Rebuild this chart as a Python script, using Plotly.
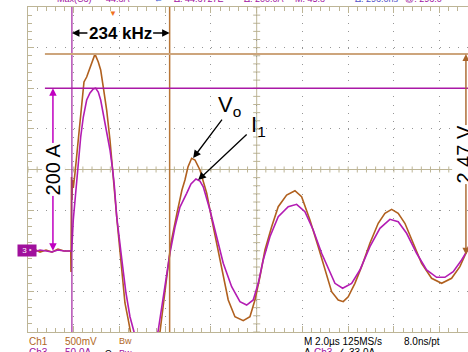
import plotly.graph_objects as go

# ---- scope settings ----
TIME_PER_DIV = 2.0      # µs / div
CH1_SCALE = 0.5         # V / div   (Vo)
CH3_SCALE = 50.0        # A / div   (I1)
CH1_POS = -2.1          # ground marker position, div
CH3_POS = -2.0
X_MAX = 19.24           # µs shown across the window (screen continues past the right edge)

# ---- captured waveforms ----
t_vo = [0, 0.262, 0.525, 0.787, 1.049, 1.311, 1.574, 1.836, 1.871, 1.880, 1.888, 1.902,
        1.924, 1.945, 1.980, 2.055, 2.155, 2.243, 2.317, 2.391, 2.448, 2.566, 2.710, 2.855,
        2.929, 3.073, 3.178, 3.292, 3.440, 3.585, 3.703, 3.803, 3.904, 4.022, 4.140, 4.240,
        4.385, 4.490, 4.809, 5.115, 5.421, 5.771, 5.945, 6.077, 6.251, 6.514, 6.732, 6.863,
        6.995, 7.156, 7.301, 7.519, 7.812, 8.101, 8.319, 8.538, 8.756, 9.049, 9.412, 9.705,
        9.924, 10.142, 10.361, 10.654, 10.942, 11.309, 11.672, 11.965, 12.328, 12.691, 12.984,
        13.277, 13.565, 13.784, 14.002, 14.295, 14.588, 14.951, 15.314, 15.607, 15.900, 16.188,
        16.481, 16.844, 17.211, 17.648, 18.085, 18.523, 18.885, 19.178, 19.322]
vo = [0.047, 0.071, 0.034, 0.059, 0.034, 0.071, 0.047, 0.047, 0.047, -0.212, 0.182, 0.958,
      0.674, 0.921, 0.822, 1.007, 1.290, 1.536, 1.819, 2.028, 2.127, 2.188, 2.299, 2.422,
      2.470, 2.373, 2.275, 2.065, 1.782, 1.413, 1.081, 0.715, 0.391, 0.022, -0.310, -0.593,
      -0.802, -0.946, -1.442, -1.652, -1.442, -0.950, -0.556, -0.187, 0.145, 0.514, 0.798, 0.921,
      1.081, 1.188, 1.167, 1.044, 0.761, 0.346, 0.059, -0.270, -0.556, -0.762, -0.811, -0.762,
      -0.556, -0.270, 0.059, 0.346, 0.592, 0.736, 0.789, 0.715, 0.428, 0.100, -0.187,
      -0.454, -0.556, -0.577, -0.516, -0.351, -0.146, 0.142, 0.388, 0.511, 0.560, 0.511,
      0.388, 0.142, -0.105, -0.289, -0.351, -0.289, -0.146, 0.038, 0.145]

t_i1 = [0, 0.262, 0.525, 0.787, 1.049, 1.311, 1.574, 1.836, 1.910, 1.980, 2.055, 2.129,
        2.199, 2.304, 2.418, 2.566, 2.710, 2.855, 2.960, 3.073, 3.178, 3.292, 3.440, 3.585,
        3.703, 3.773, 3.878, 3.991, 4.140, 4.284, 4.459, 4.634, 4.852, 5.158, 5.465, 5.683,
        5.858, 6.033, 6.208, 6.426, 6.645, 6.938, 7.126, 7.344, 7.519, 7.663, 7.956, 8.249,
        8.538, 8.905, 9.268, 9.561, 9.849, 10.068, 10.286, 10.579, 10.942, 11.379, 11.747,
        12.109, 12.472, 12.839, 13.128, 13.421, 13.757, 14.151, 14.514, 14.951, 15.388,
        15.825, 16.188, 16.555, 16.993, 17.430, 17.867, 18.230, 18.593, 18.960, 19.178, 19.322]
i1 = [-0.3, -1.5, 0.9, -0.3, -1.5, 0.9, -0.3, -0.3, -0.3, 37.8, 62.5, 87.1,
      115.4, 140.0, 164.6, 185.5, 194.2, 199.1, 200.0, 195.4, 185.5, 169.5, 148.6, 124.0,
      99.4, 80.9, 41.9, 13.2, -19.6, -52.0, -81.2, -99.6, -124.6, -140.6, -124.6, -100.0,
      -69.2, -36.0, -2.8, 29.2, 53.8, 70.7, 82.2, 88.3, 85.8, 78.8, 50.2, 17.3,
      -15.4, -44.2, -62.7, -66.8, -60.6, -40.1, -11.4, 17.3, 41.9, 54.2, 57.2,
      48.1, 25.5, -3.1, -21.6, -40.1, -46.2, -40.1, -23.7, 5.0, 27.6,
      38.7, 35.8, 21.5, -3.1, -23.7, -32.7, -32.7, -25.8, -11.4, -1.2, 7.1]

# ---- cursor readouts ----
FREQ_KHZ = 234
CURSOR_T1 = 1.92                          # µs
CURSOR_T2 = CURSOR_T1 + 1e3 / FREQ_KHZ    # one period later
CURSOR_V = 2.47                           # V
CURSOR_I = 200.0                          # A

# ---- styling ----
W, H = 468, 352
ML, MT, MB = 28, 7, 20
FONT = "Liberation Sans, Arial, sans-serif"
BROWN = "#B0601E"
BROWN_TXT = "#B0671E"
BROWN_CUR = "#CDA57C"
MAGENTA = "#B31CB3"
PURPLE_TXT = "#A010A0"
AXIS = "#BDB596"
GRID = "#969696"

plot_w = W - ML
plot_h = H - MT - MB
dot_y = plot_h / 8 / 5                       # vertical spacing of grid dots
dot_x = plot_w / X_MAX * TIME_PER_DIV / 5    # horizontal spacing of grid dots

fig = go.Figure()
fig.add_trace(go.Scatter(x=t_vo, y=vo, yaxis="y2", mode="lines",
                         line=dict(color=BROWN, width=1.6), hoverinfo="skip"))
fig.add_trace(go.Scatter(x=t_i1, y=i1, yaxis="y3", mode="lines",
                         line=dict(color=MAGENTA, width=1.6), hoverinfo="skip"))

shapes = []
XC = 5 * TIME_PER_DIV
# centre cross with fine graduations
shapes.append(dict(type="line", xref="x", yref="paper", x0=XC, x1=XC, y0=0, y1=1,
                   line=dict(color=AXIS, width=1), layer="between"))
n_minor_x = int(X_MAX / (TIME_PER_DIV / 5)) + 1
for k in range(n_minor_x):
    t = k * TIME_PER_DIV / 5
    shapes.append(dict(type="line", xref="x", yref="y", x0=t, x1=t,
                       ysizemode="pixel", yanchor=0, y0=-3, y1=3,
                       line=dict(color=AXIS, width=1), layer="between"))
for k in range(-20, 21):
    y = k / 5
    shapes.append(dict(type="line", xref="x", yref="y", y0=y, y1=y,
                       xsizemode="pixel", xanchor=XC, x0=-3.5, x1=3.5,
                       line=dict(color=AXIS, width=1), layer="between"))
# cursors
shapes.append(dict(type="line", xref="x", yref="paper", x0=CURSOR_T1, x1=CURSOR_T1, y0=0, y1=1,
                   line=dict(color="#A020A0", width=1.2)))
shapes.append(dict(type="line", xref="x", yref="paper", x0=CURSOR_T2, x1=CURSOR_T2, y0=0, y1=1,
                   line=dict(color="#B87535", width=1.5)))
shapes.append(dict(type="line", xref="x", yref="y2", x0=0.74, x1=X_MAX, y0=CURSOR_V, y1=CURSOR_V,
                   line=dict(color=BROWN_CUR, width=2)))
shapes.append(dict(type="line", xref="x", yref="y3", x0=0.74, x1=X_MAX, y0=CURSOR_I, y1=CURSOR_I,
                   line=dict(color="#AA18A6", width=1.5)))

ann = []


def arrow(x, y, yref, ax, ay, color, width=1.5, size=1.0):
    ann.append(dict(x=x, y=y, xref="x", yref=yref, ax=ax, ay=ay, text="", showarrow=True,
                    arrowhead=2, arrowsize=size, arrowwidth=width, arrowcolor=color))


def label(text, x, y, xref="x", yref="y", size=10, color="black", **kw):
    d = dict(text=text, x=x, y=y, xref=xref, yref=yref, showarrow=False,
             font=dict(family=FONT, size=size, color=color))
    d.update(kw)
    ann.append(d)


# 200 A span
X_I_SPAN = 1.09
arrow(X_I_SPAN, CURSOR_I, "y3", 0, 80, "#C000C0")
arrow(X_I_SPAN, 0, "y3", 0, -80, "#C000C0")
label(f"{CURSOR_I:.0f} A", X_I_SPAN, CURSOR_I / 2, yref="y3", size=20, textangle=-90,
      bgcolor="white", borderpad=0)

# 2.47 V span (at the right edge of the screen)
X_V_SPAN = 19.15
arrow(X_V_SPAN, CURSOR_V, "y2", 0, 100, "#A8642A", width=1.4)
arrow(X_V_SPAN, 0, "y2", 0, -100, "#A8642A", width=1.4)
label(f"{CURSOR_V:.2f} V", 19.07, CURSOR_V / 2, yref="y2", size=20, textangle=-90,
      bgcolor="white", borderpad=0)

# period between cursors
Y_FREQ = 3.36
label(f"<b>{FREQ_KHZ} kHz</b>", (CURSOR_T1 + CURSOR_T2) / 2, Y_FREQ, size=17)
arrow(CURSOR_T1, Y_FREQ, "y", 17, 0, "black")
arrow(CURSOR_T2, Y_FREQ, "y", -18, 0, "black")

# waveform callouts
arrow(7.22, 1.19, "y2", 30, -40, "black", width=1.3, size=1.2)
label("V<sub>o</sub>", 8.79, 1.56, size=22)
arrow(7.44, 87.0, "y3", 50, -47, "black", width=1.3, size=1.2)
label("I<sub>1</sub>", 10.1, 1.07, size=22)

# channel 3 ground marker (sits in the left margin)
label("3 ‣", (17 - ML) / plot_w, 0, xref="paper", yref="y3", size=8, color="white",
      bgcolor="#A0109C", width=18, height=11, borderpad=0)
# trigger position marker
label("▼", 3.72, 1.0, yref="paper", size=8, color="#F07020", yanchor="top")

# readout along the top (mostly cut off)
y_top = 1 + (MT + 1) / plot_h
for txt, px, col in [("Max(C3)", 55, PURPLE_TXT), ("44.8A", 104, PURPLE_TXT),
                     ("←", 152, "#3050D0"), ("Δ: 44.6727E", 172, PURPLE_TXT),
                     ("Δ: 200.0A", 242, PURPLE_TXT), ("M: 45.8", 293, PURPLE_TXT),
                     ("Δ: 296.0ns", 353, "#5050C8"), ("@: 296.0", 403, PURPLE_TXT)]:
    label(txt, (px - ML) / plot_w, y_top, xref="paper", yref="paper", size=9, color=col,
          xanchor="left", yanchor="middle")

# readout along the bottom
y_r1 = -(341 - (H - MB)) / plot_h
y_r2 = -(353 - (H - MB)) / plot_h
for txt, px, y, col, sz in [("Ch1", 27, y_r1, BROWN_TXT, 10), ("500mV", 63, y_r1, BROWN_TXT, 10),
                            ("Bw", 117, y_r1, BROWN_TXT, 9),
                            ("M 2.0µs 125MS/s", 302, y_r1, "black", 10),
                            ("8.0ns/pt", 402, y_r1, "black", 10),
                            ("Ch3", 27, y_r2, PURPLE_TXT, 10), ("50.0A", 63, y_r2, PURPLE_TXT, 10),
                            ("Ω", 103, y_r2, "black", 9), ("Bw", 117, y_r2, PURPLE_TXT, 9),
                            ("A", 302, y_r2, "black", 10), ("Ch3", 312, y_r2, PURPLE_TXT, 10),
                            ("∠", 335, y_r2, "black", 10), ("33.0A", 347, y_r2, "black", 10)]:
    label(txt, (px - ML) / plot_w, y, xref="paper", yref="paper", size=sz, color=col,
          xanchor="left", yanchor="middle")

fig.update_layout(
    width=W, height=H, autosize=False,
    margin=dict(l=ML, r=0, t=MT, b=MB, pad=0),
    paper_bgcolor="white", plot_bgcolor="white",
    showlegend=False,
    shapes=shapes, annotations=ann,
    xaxis=dict(range=[0, X_MAX], dtick=TIME_PER_DIV, tick0=0,
               showgrid=True, gridcolor=GRID, gridwidth=1, griddash=f"1px,{dot_y - 1:.3f}px",
               ticks="inside", ticklen=6, tickcolor=AXIS, tickwidth=1,
               minor=dict(dtick=TIME_PER_DIV / 5, ticks="inside", ticklen=4,
                          tickcolor=AXIS, showgrid=False),
               showline=True, linecolor=AXIS, linewidth=1, mirror="ticks",
               showticklabels=False, zeroline=False, fixedrange=True),
    yaxis=dict(range=[-4, 4], dtick=1, tick0=0,
               showgrid=True, gridcolor=GRID, gridwidth=1, griddash=f"1px,{dot_x - 1:.3f}px",
               ticks="inside", ticklen=6, tickcolor=AXIS, tickwidth=1,
               minor=dict(dtick=0.2, ticks="inside", ticklen=4, tickcolor=AXIS, showgrid=False),
               showline=True, linecolor=AXIS, linewidth=1, mirror=False,
               zeroline=True, zerolinecolor=AXIS, zerolinewidth=1,
               showticklabels=False, fixedrange=True),
    yaxis2=dict(overlaying="y", visible=False, fixedrange=True,
                range=[(-4 - CH1_POS) * CH1_SCALE, (4 - CH1_POS) * CH1_SCALE]),
    yaxis3=dict(overlaying="y", visible=False, fixedrange=True,
                range=[(-4 - CH3_POS) * CH3_SCALE, (4 - CH3_POS) * CH3_SCALE]),
    font=dict(family=FONT),
)

fig.write_html("out.html", config={"displayModeBar": False})
